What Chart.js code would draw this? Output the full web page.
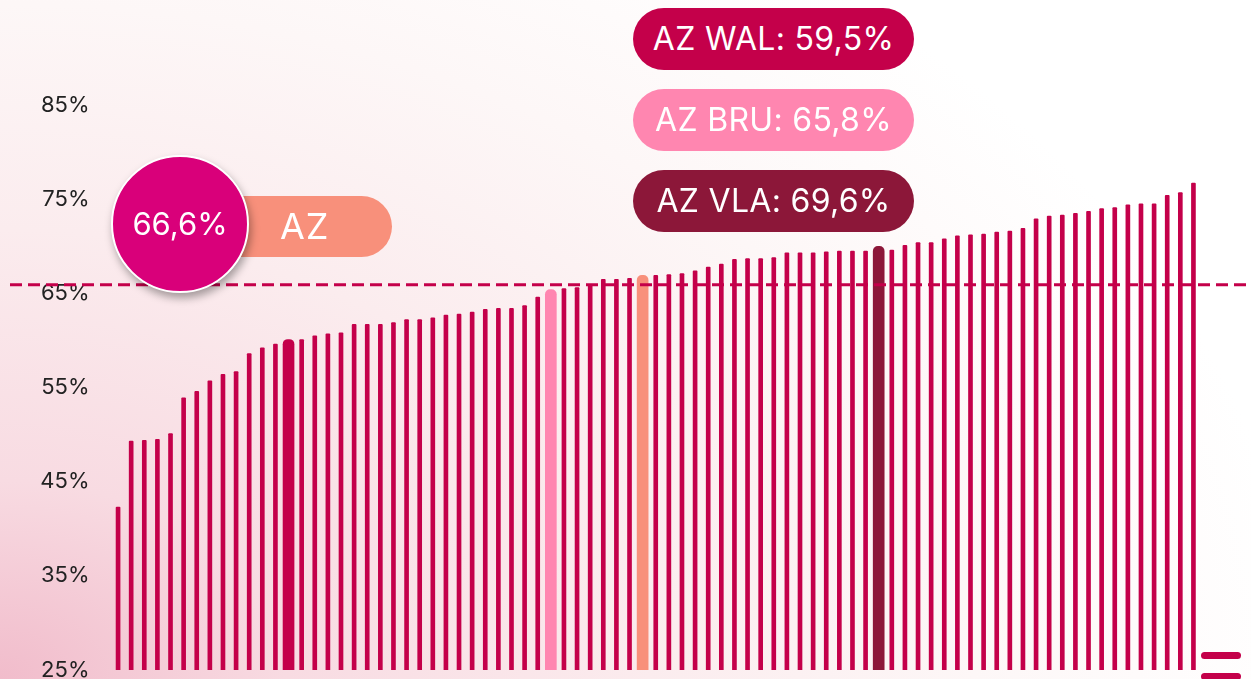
<!DOCTYPE html>
<html>
<head>
<meta charset="utf-8">
<script src="https://cdn.jsdelivr.net/npm/chart.js@4/dist/chart.umd.min.js"></script>
<style>
  html, body { margin: 0; padding: 0; }
  body {
    width: 1251px; height: 679px; overflow: hidden; position: relative;
    font-family: "Inter", "DejaVu Sans", sans-serif;
    background: radial-gradient(ellipse 1300px 900px at 0% 100%, #f1bccb 0%, #f8dbe2 22%, #fbecee 50%, #fdf7f7 75%, #ffffff 100%);
  }
  #wrap { position: absolute; left: 0; top: 0; width: 1251px; height: 679px; overflow: hidden; }
  canvas { display: block; }
  .pill {
    position: absolute; height: 62px; border-radius: 31px; color: #fff;
    font-size: 32px; line-height: 62px; text-align: center; white-space: nowrap;
    letter-spacing: 0.3px;
  }
  #badge {
    position: absolute; left: 111px; top: 155px; width: 134px; height: 134px;
    border-radius: 50%; background: #d9007a; border: 2px solid #fff;
    box-shadow: 2px 5px 9px rgba(0, 0, 0, 0.35);
    color: #fff; font-size: 31px; line-height: 134px; text-align: center;
  }
  #azpill {
    position: absolute; left: 180px; top: 196px; width: 212px; height: 61px;
    border-radius: 0 31px 31px 0; background: #f8907b; color: #fff;
    font-size: 36px; line-height: 61px; text-indent: 100px; letter-spacing: 1px;
  }
  .menu { position: absolute; left: 1201px; width: 40px; height: 7px; border-radius: 4px; background: #c4004a; }
</style>
</head>
<body>
<div id="wrap"><canvas id="out" width="1251" height="710"></canvas></div>
<div id="azpill"></div>
<div id="badge"></div>
<div class="pill" id="p0"></div>
<div class="pill" id="p1"></div>
<div class="pill" id="p2"></div>
<div class="menu" style="top:652px"></div>
<div class="menu" style="top:673px"></div>
<script>
// rates per unit, sorted ascending (%)
const rates = [
  42.3, 49.3, 49.4, 49.5, 50.1, 53.9, 54.6, 55.7, 56.4, 56.7,
  58.6, 59.2, 59.6, 60.1, 60.1, 60.5, 60.7, 60.8, 61.7, 61.7,
  61.7, 61.9, 62.2, 62.2, 62.4, 62.7, 62.8, 63.0, 63.3, 63.4,
  63.4, 63.7, 64.6, 65.4, 65.5, 65.6, 65.9, 66.5, 66.5, 66.6,
  66.9, 66.9, 67.0, 67.1, 67.4, 67.8, 68.1, 68.6, 68.7, 68.7,
  68.8, 69.3, 69.3, 69.3, 69.4, 69.5, 69.5, 69.5, 70.0, 69.6,
  70.1, 70.4, 70.4, 70.8, 71.1, 71.2, 71.3, 71.5, 71.6, 71.9,
  72.9, 73.2, 73.3, 73.5, 73.7, 74.0, 74.1, 74.4, 74.5, 74.5,
  75.4, 75.7, 76.7
];
const categories = rates.map((v, i) => "#" + (i + 1));

// highlighted units
const hlIndex = [13, 33, 40, 58];
const hlName = ["AZ WAL", "AZ BRU", "AZ", "AZ VLA"];
const hlValue = [59.5, 65.8, 66.6, 69.6];
const hlColor = ["#c4004a", "#ff86b0", "#f8907b", "#8c1739"];

const avgLine = 65.9;
const yTicks = [25, 35, 45, 55, 65, 75, 85];

const barColor = "#c4004a";

const fmt = v => v.toFixed(1).replace(".", ",") + "%";

const thinData = rates.map((v, i) => hlIndex.includes(i) ? null : v);
const thickData = rates.map((v, i) => hlIndex.includes(i) ? v : null);
const thickColors = rates.map((v, i) => {
  const k = hlIndex.indexOf(i);
  return k >= 0 ? hlColor[k] : barColor;
});

const dashLine = {
  id: "dashLine",
  afterDatasetsDraw(chart) {
    const ctx = chart.ctx;
    const y = chart.scales.y.getPixelForValue(avgLine);
    ctx.save();
    ctx.strokeStyle = barColor;
    ctx.lineWidth = 3;
    ctx.setLineDash([12, 6]);
    ctx.beginPath();
    ctx.moveTo(10, y);
    ctx.lineTo(chart.width, y);
    ctx.stroke();
    ctx.restore();
  }
};

const chartConfig = {
  type: "bar",
  data: {
    labels: categories,
    datasets: [
      {
        data: thinData,
        backgroundColor: barColor,
        barThickness: 4,
        borderRadius: 1,
        grouped: false
      },
      {
        data: thickData,
        backgroundColor: thickColors,
        barThickness: 11,
        borderRadius: 5,
        grouped: false
      }
    ]
  },
  options: {
    responsive: false,
    animation: false,
    layout: { padding: { left: 0, right: 51, top: 105, bottom: 40 } },
    plugins: { legend: { display: false }, tooltip: { enabled: false } },
    scales: {
      x: { display: false },
      y: {
        min: 25,
        max: 85,
        afterFit(scale) { scale.width = 111.5; },
        afterBuildTicks(scale) { scale.ticks = yTicks.map(v => ({ value: v })); },
        grid: { display: false, drawTicks: false },
        border: { display: false },
        ticks: {
          padding: 22,
          color: "#222",
          font: { family: "Inter", size: 22 },
          callback: v => v + "%"
        }
      }
    }
  },
  plugins: [dashLine]
};

const canvasCtx = document.getElementById("out").getContext("2d");
window.chart = new Chart(canvasCtx, chartConfig);

// labels
const pillOrder = [0, 1, 3];
const pillTops = [8, 89, 170];
pillOrder.forEach((k, n) => {
  const el = document.getElementById("p" + n);
  el.textContent = hlName[k] + ": " + fmt(hlValue[k]);
  el.style.background = hlColor[k];
  el.style.left = "633px";
  el.style.width = "281px";
  el.style.top = pillTops[n] + "px";
});
document.getElementById("badge").textContent = fmt(hlValue[2]);
document.getElementById("azpill").textContent = hlName[2];
</script>
</body>
</html>
